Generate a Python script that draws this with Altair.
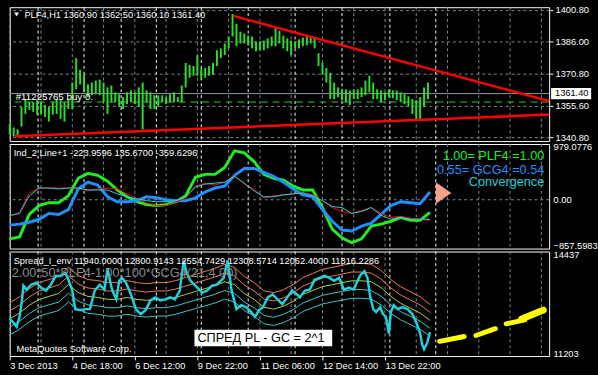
import altair as alt
import pandas as pd

# ---------------- data ----------------
# Panel 1: PLF4,H1 price bars (high / low), one entry every 2 bar slots
bar_hi = [1347.2,1345.4,1344.5,1355.1,1358.8,1357.4,1357.4,1358.3,1357.4,1356.0,
          1355.1,1357.4,1358.8,1358.3,1357.4,1358.8,1366.6,1378.1,1372.6,1370.3,
          1365.7,1366.6,1367.5,1368.0,1366.6,1364.3,1365.2,1362.0,1361.1,1359.7,
          1362.0,1362.9,1362.0,1364.3,1366.6,1362.9,1362.0,1360.6,1360.6,1360.6,
          1359.7,1361.1,1362.0,1359.7,1365.2,1375.8,1374.9,1374.4,1379.5,1373.5,
          1373.5,1374.4,1375.8,1381.8,1382.7,1385.0,1388.3,1398.9,1394.3,1390.6,
          1389.7,1388.7,1388.3,1386.0,1386.0,1386.4,1387.4,1388.3,1392.9,1391.0,
          1388.7,1387.4,1386.4,1386.0,1386.9,1387.8,1388.3,1388.3,1387.4,1380.4,
          1375.8,1373.5,1371.2,1366.6,1364.3,1363.4,1363.4,1362.9,1363.4,1363.4,
          1364.3,1367.5,1369.8,1366.6,1363.4,1362.9,1362.0,1363.4,1362.9,1362.9,
          1362.0,1361.1,1360.1,1358.8,1358.3,1359.7,1364.3,1366.6]
bar_lo = [1342.1,1341.2,1341.2,1345.8,1351.8,1353.7,1352.8,1351.4,1351.8,1350.4,
          1348.2,1351.4,1351.8,1349.5,1348.2,1354.1,1354.1,1363.4,1365.7,1362.0,
          1359.7,1360.6,1361.1,1360.6,1357.4,1351.8,1357.4,1357.4,1355.1,1354.1,
          1356.4,1357.4,1356.4,1355.1,1344.5,1357.4,1354.1,1354.1,1355.1,1357.4,
          1356.4,1357.4,1357.4,1357.4,1357.4,1364.3,1368.9,1369.8,1369.8,1368.0,
          1368.9,1369.8,1370.3,1374.4,1378.1,1379.5,1382.7,1388.3,1383.7,1385.0,
          1385.0,1384.1,1382.7,1381.4,1381.8,1381.8,1382.7,1383.7,1383.7,1385.0,
          1382.7,1381.4,1379.5,1382.7,1382.7,1383.7,1384.1,1385.0,1382.7,1374.4,
          1370.3,1366.6,1358.8,1358.8,1359.7,1358.3,1357.4,1356.0,1358.8,1358.8,
          1359.7,1360.6,1362.0,1358.8,1358.8,1357.4,1358.3,1359.7,1359.2,1358.3,
          1357.4,1356.4,1355.5,1351.8,1349.1,1349.1,1355.1,1358.8]
bar_t = [2 * i for i in range(len(bar_hi))]
last_price = 1361.40
order_price = 1357.4
price_ticks = [1340.8, 1355.6, 1370.8, 1386.0, 1400.8]
trend_id = ["up", "up", "lo", "lo"]
trend_t = [114.5, 276, 2.5, 276]
trend_p = [1398.0, 1357.9, 1341.3, 1351.5]

# Panel 2: Ind_2 lines
ind_t = list(range(0, 216, 5))
ind_plf = [-687,-652,-258,-103,-52,-52,69,378,464,429,326,172,52,-34,-86,-103,-86,-34,69,395,
           446,446,567,859,824,670,446,378,343,240,172,172,-137,-515,-670,-755,-687,-464,-429,-378,
           -309,-361,-361,-223]
ind_gcg = [-446,-429,-395,-343,-240,-258,-172,189,309,258,52,-34,-34,-17,52,34,0,-17,-17,34,
           137,206,240,429,549,549,481,412,309,189,86,52,-172,-378,-532,-549,-464,-412,-258,-103,
           -34,-52,-69,137]
ind_red = [-292,-223,120,206,206,206,206,206,155,189,206,189,103,17,-52,-103,-103,-34,17,240,
           292,258,309,429,275,189,34,69,86,103,120,86,-17,-137,-206,-240,-189,-137,-240,-309,
           -292,-326,-343,-361]
ind_cyan = [-275,-240,69,206,206,189,206,206,172,172,172,103,52,17,-17,-34,-34,-17,52,223,
            275,292,309,412,292,155,52,52,86,103,120,69,-17,-120,-137,-240,-206,-137,-275,-343,
            -309,-343,-343,-343]
ind_ticks = [-857.5983, 0, 979.0776]
arrow_t = [222]
arrow_v = [120]

# Panel 3: spread and envelope
spr_t = [0,1.5,3.5,5,6,7,8.5,11,13.5,16,18.5,21,23.5,26,28.5,30,32,33.5,36,38.5,
         41,43.5,46,48.5,50,51.5,52.5,54.5,56,57.5,59.5,62,64.5,67,69.5,72,74.5,77,79.5,82,
         84.5,87,89,90.5,92.5,96,98.5,101,103.5,106,109.5,111.5,113.5,116,118.5,121,123.5,125.5,127.5,129.5,
         132,134.5,137,139.5,142,144.5,147,148.5,151,153.5,156,158.5,161,163.5,166,168.5,171,173.5,176,177.5,
         179.5,181.5,183,184.5,186,187.5,189.5,191,192.5,194,195,196.5,198.5,201,203.5,206,208.5,210,211,212,
         213.5,215]
spr_v = [12353,12262,12110,12413,12806,13380,13259,13410,13470,13319,13229,13410,13682,13682,13773,13561,13229,12655,12624,12655,
         12655,13229,13410,13259,13924,13470,13229,12957,13531,13621,13470,13108,12655,12504,12624,12926,13017,12926,12957,13017,
         12957,13229,14165,13773,13531,13319,13168,13229,13380,13410,13621,14165,13229,12655,12775,12715,12564,12413,12624,12715,
         13017,13108,12957,12806,13017,13229,13108,13017,13229,13259,13561,13621,13682,13621,13531,13621,13259,13319,13259,13470,
         13713,13833,13621,13017,12655,12564,12715,12504,12413,11898,12564,12775,12655,12715,12655,12504,12171,11898,11567,11416,
         11597,11940]
env_mid = [12352,12534,12775,12957,13047,13138,13411,13168,13047,13017,12957,12957,13017,12957,12926,12957,12957,13017,13108,13198,
           13289,13380,13501,13411,13138,12957,12715,12655,12745,12896,13108,13229,13350,13411,13470,13531,13531,13501,13319,13047,
           12836,12685,12534,12308]
env_dev = [4, 2, 0, -2, -4]
env_col = ["#F27A55", "#F27A55", "#B8D23A", "#3FC9C9", "#3FC9C9"]
spr_ticks = [11203, 14437]
yel_t = [220, 238.5, 254, 262]
yel_t2 = [232.5, 248.5, 263.5, 273]
yel_v = [11657, 11838, 12201, 12352]
yel_v2 = [11808, 12050, 12322, 12624]
yel_w = [5, 5, 5, 7]

# time axis
grid_t = list(range(0, 273, 16))
sep_t = [14.5, 38, 57, 75, 98, 122, 146, 170, 194.5, 218]
tick_t = [0, 32, 64, 96, 128, 160, 192]
tick_labels = ["3 Dec 2013", "4 Dec 18:00", "6 Dec 12:00", "9 Dec 22:00",
               "11 Dec 06:00", "12 Dec 14:00", "13 Dec 22:00"]

# ---------------- chart ----------------
W = 552
H1, H2, H3 = 137, 107, 107
GRID = "#7A8A99"
FONT = "Liberation Sans"

xs = alt.Scale(domain=[0, 276], nice=False, zero=False)
ys1 = alt.Scale(domain=[1339.0, 1402.1], nice=False, zero=False)
ys2 = alt.Scale(domain=[-857.5983, 979.0776], nice=False, zero=False)
ys3 = alt.Scale(domain=[11203, 14437], nice=False, zero=False)

ax1 = alt.Axis(orient="right", values=price_ticks, format=".2f", grid=True, gridColor=GRID,
               gridDash=[3, 3], gridWidth=1, title=None, tickSize=4, tickColor="white",
               labelPadding=2, domain=False, labelFlush=False)
ax2 = alt.Axis(orient="right", values=ind_ticks,
               labelExpr="datum.value == 0 ? '0.00' : format(datum.value, '.4f')",
               grid=False, ticks=False, labelPadding=4, title=None, domain=False,
               labelFlush=True, labelFlushOffset=2)
ax3 = alt.Axis(orient="right", values=spr_ticks, format="d", grid=False, ticks=False,
               labelPadding=4, title=None, domain=False, labelFlush=True, labelFlushOffset=2)
lab_js = "[" + ",".join("'%s'" % s for s in tick_labels) + "]"
xax3 = alt.Axis(orient="bottom", values=tick_t, labelExpr=lab_js + "[datum.value/32]",
                grid=False, tickSize=4, tickColor="white", labelAlign="left", labelFlush=False,
                labelPadding=1, labelBaseline="top", domain=False, title=None, labelOverlap=False)


def X(field, ax=None):
    return alt.X(field, type="quantitative", scale=xs, axis=ax)


def grid_layers(ax=None):
    g = alt.Chart(pd.DataFrame({"t": grid_t})).mark_rule(
        color=GRID, strokeDash=[3, 3], strokeWidth=1).encode(x=X("t", ax))
    s = alt.Chart(pd.DataFrame({"t": sep_t})).mark_rule(
        color="white", strokeDash=[3, 3], strokeWidth=1).encode(x=X("t", ax))
    return [g, s]


def text(s, x, y, color="white", size=9.5, align="left"):
    return alt.Chart(pd.DataFrame({"s": [s]})).mark_text(
        align=align, baseline="middle", font=FONT, fontSize=size, color=color
    ).encode(x=alt.value(x), y=alt.value(y), text="s:N")


# ---- panel 1 ----
Y1 = lambda f: alt.Y(f, type="quantitative", scale=ys1, axis=ax1)
bars_df = pd.DataFrame({"t": bar_t, "hi": bar_hi, "lo": bar_lo})
bars = alt.Chart(bars_df).mark_rule(color="#2EDC2E", strokeWidth=2).encode(
    x=X("t"), y=Y1("hi"), y2="lo")
lastline = alt.Chart(pd.DataFrame({"p": [last_price]})).mark_rule(
    color="#8E9BAA", strokeWidth=1).encode(y=Y1("p"))
orderline = alt.Chart(pd.DataFrame({"p": [order_price]})).mark_rule(
    color="#22CC22", strokeWidth=1, strokeDash=[7, 5]).encode(y=Y1("p"))
trends = alt.Chart(pd.DataFrame({"id": trend_id, "t": trend_t, "p": trend_p})).mark_line(
    color="#FF0000", strokeWidth=2.5).encode(x=X("t"), y=Y1("p"), detail="id:N")
tri = alt.Chart(pd.DataFrame({"a": [0]})).mark_point(
    shape="triangle-down", filled=True, color="white", size=24, opacity=1).encode(
    x=alt.value(7), y=alt.value(7.5))
pbox = alt.Chart(pd.DataFrame({"p": [last_price]})).mark_point(
    shape="M-1,-0.28L1,-0.28L1,0.28L-1,0.28Z", filled=True, color="white", size=1681,
    opacity=1).encode(x=alt.value(574.5), y=Y1("p"))
ptext = alt.Chart(pd.DataFrame({"p": [last_price], "s": ["%.2f" % last_price]})).mark_text(
    align="left", baseline="middle", font=FONT, fontSize=9.5, color="black").encode(
    x=alt.value(558), y=Y1("p"), text="s:N")

p1 = alt.layer(
    *grid_layers(), lastline, orderline, bars, trends, tri,
    text("PLF4,H1  1360.90 1362.50 1360.10 1361.40", 15, 7.7),
    text("#11225765 buy 0.", 6, 92, size=10),
    pbox, ptext,
).properties(width=W, height=H1)

# ---- panel 2 ----
Y2 = lambda f: alt.Y(f, type="quantitative", scale=ys2, axis=ax2)


def ind_line(vals, color, w):
    return alt.Chart(pd.DataFrame({"t": ind_t, "v": vals})).mark_line(
        color=color, strokeWidth=w).encode(x=X("t"), y=Y2("v"))


zero = alt.Chart(pd.DataFrame({"v": [0]})).mark_rule(
    color=GRID, strokeDash=[3, 3], strokeWidth=1).encode(y=Y2("v"))
arrow = alt.Chart(pd.DataFrame({"t": arrow_t, "v": arrow_v})).mark_point(
    shape="M-0.72,-1L0.72,0L-0.72,1Z", filled=True, color="#F4A28C", size=484,
    opacity=1).encode(x=X("t"), y=Y2("v"))

p2 = alt.layer(
    *grid_layers(), zero,
    ind_line(ind_plf, "#22EE22", 3),
    ind_line(ind_gcg, "#1E90FF", 3),
    ind_line(ind_red, "#FF0000", 1),
    ind_line(ind_cyan, "#22D8E0", 1),
    arrow,
    text("Ind_2 Line+1 -223.9596 135.6700 -359.6296", 4, 9.3),
    text("1.00= PLF4 =1.00", 547, 12.7, color="#22EE22", size=13, align="right"),
    text("0.55= GCG4 =0.54", 547, 26.5, color="#1E90FF", size=13, align="right"),
    text("Convergence", 547, 39, color="#22CCDD", size=13, align="right"),
).properties(width=W, height=H2)

# ---- panel 3 ----
Y3 = lambda f: alt.Y(f, type="quantitative", scale=ys3, axis=ax3)
env_layers = []
for dev, col in zip(env_dev, env_col):
    env_vals = [m * (1 + dev / 100.0) for m in env_mid]
    env_layers.append(
        alt.Chart(pd.DataFrame({"t": ind_t, "v": env_vals})).mark_line(
            color=col, strokeWidth=1).encode(x=X("t", xax3), y=Y3("v")))
spread = alt.Chart(pd.DataFrame({"t": spr_t, "v": spr_v})).mark_line(
    color="#1ED2DE", strokeWidth=2.5).encode(x=X("t", xax3), y=Y3("v"))
yel = alt.Chart(pd.DataFrame({"t": yel_t, "t2": yel_t2, "v": yel_v, "v2": yel_v2, "w": yel_w})).mark_rule(
    color="#FFFF00", strokeCap="round").encode(
    x=X("t", xax3), x2="t2", y=Y3("v"), y2="v2", strokeWidth=alt.StrokeWidth("w:Q", scale=None))
box = alt.Chart(pd.DataFrame({"a": [0]})).mark_rect(color="white").encode(
    x=alt.value(189), x2=alt.value(330), y=alt.value(80), y2=alt.value(97))

p3 = alt.layer(
    *grid_layers(xax3), *env_layers, spread, yel,
    text("Spread_I_env 11940.0000 12800.9143 12554.7429 12308.5714 12062.4000 11816.2286", 4, 9.3),
    text("2.00*50*PLF4-1.00*100*GCG4(21,4.00)", 2, 22, color="#8A8A8A", size=13),
    text("MetaQuotes Software Corp.", 7, 100.3),
    box,
    text("СПРЕД  PL - GC = 2^1", 192, 89, color="black", size=13),
).properties(width=W, height=H3)

chart = alt.vconcat(p1, p2, p3, spacing=3, bounds="flush").configure(
    background="black", padding={"left": 3, "top": 0, "right": 0, "bottom": 0}
).configure_view(stroke="white", strokeWidth=1).configure_axis(
    labelColor="white", labelFont=FONT, labelFontSize=9.5, domain=False
)

chart.save("out.html", embed_options={"renderer": "svg", "actions": False})
